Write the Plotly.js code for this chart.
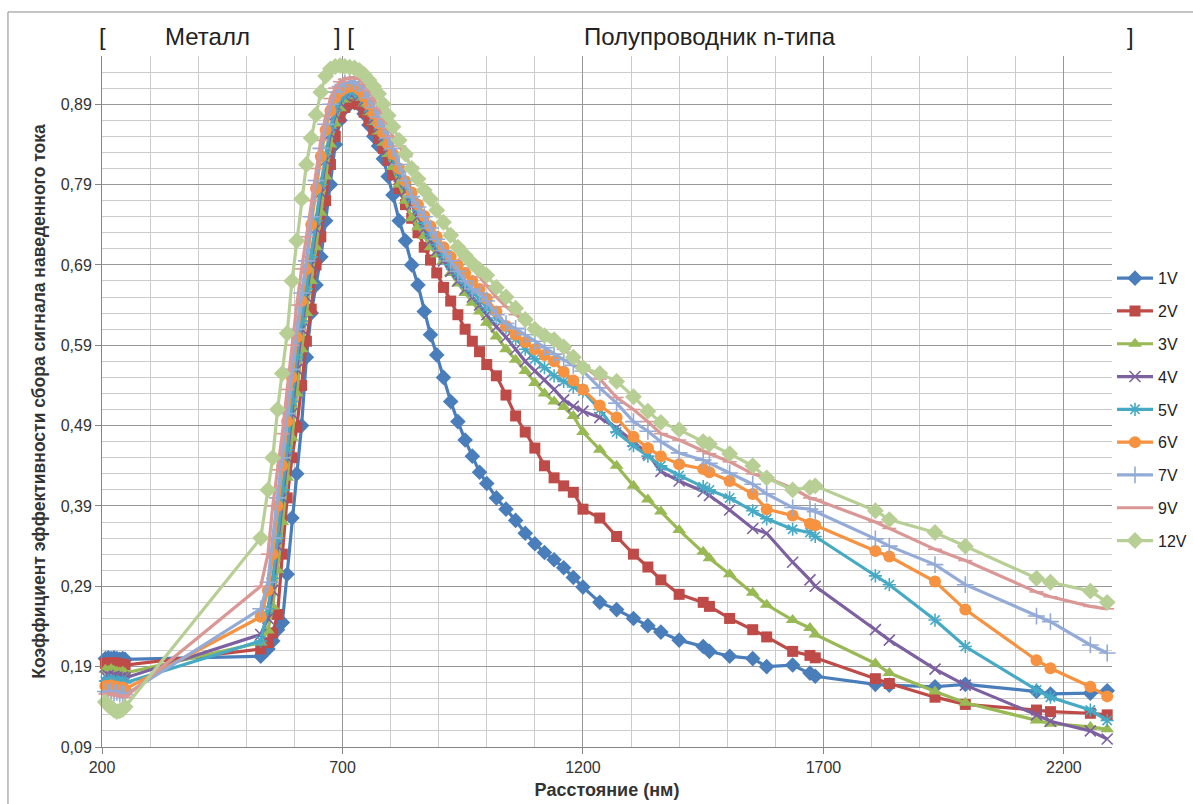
<!DOCTYPE html>
<html>
<head>
<meta charset="utf-8">
<script src="https://cdn.plot.ly/plotly-3.0.1.min.js"></script>
<style>html,body{margin:0;padding:0;background:#fff;}#chart{width:1193px;height:804px;}</style>
</head>
<body>
<div id="chart"></div>
<script>
// Shared distance column (nm)
const distance = [207,213,219,225,231,237,243,248,
530,
545,555,565,575,585,595,605,615,625,635,645,655,665,675,685,695,705,
715,725,735,745,755,765,775,785,795,805,
818,831,844,857,870,883,896,
910,925,940,955,970,985,1000,
1020,1040,1060,1080,1100,1120,1140,1160,1180,
1200,1235,1270,1305,1335,1362,1400,1450,1463,1505,1553,1582,1636,1672,1683,
1808,1837,1932,1995,2143,2172,2255,2290];

const seriesNames = ['1V','2V','3V','4V','5V','6V','7V','9V','12V'];

const v1 = [0.200,0.201,0.200,0.201,0.200,0.199,0.200,0.199,
0.203,
0.212,0.222,0.236,0.245,0.305,0.375,0.430,0.490,0.575,0.630,0.665,0.700,0.745,0.790,0.840,0.870,0.885,
0.890,0.892,0.889,0.878,0.864,0.850,0.838,0.822,0.800,0.777,
0.745,0.720,0.690,0.665,0.632,0.603,0.578,
0.550,0.520,0.495,0.472,0.452,0.432,0.418,
0.400,0.386,0.372,0.356,0.343,0.332,0.323,0.313,0.301,
0.289,0.270,0.261,0.250,0.241,0.233,0.223,0.215,0.209,0.203,0.200,0.190,0.192,0.182,0.178,
0.168,0.167,0.165,0.168,0.159,0.156,0.157,0.160];

const v2 = [0.194,0.195,0.193,0.195,0.194,0.192,0.193,0.192,
0.212,
0.220,0.232,0.255,0.330,0.400,0.450,0.488,0.540,0.595,0.635,0.690,0.725,0.770,0.815,0.850,0.874,0.886,
0.891,0.893,0.890,0.880,0.869,0.858,0.847,0.835,0.820,0.802,
0.785,0.765,0.748,0.730,0.712,0.696,0.680,
0.662,0.645,0.628,0.610,0.595,0.582,0.566,
0.552,0.528,0.502,0.482,0.462,0.440,0.425,0.415,0.407,
0.386,0.375,0.352,0.330,0.314,0.298,0.280,0.270,0.265,0.250,0.236,0.227,0.209,0.204,0.201,
0.175,0.169,0.152,0.143,0.136,0.134,0.132,0.130];

const v3 = [0.186,0.185,0.187,0.185,0.184,0.183,0.184,0.182,
0.220,
0.235,0.265,0.310,0.370,0.425,0.475,0.530,0.585,0.630,0.670,0.712,0.755,0.800,0.840,0.866,0.885,0.896,
0.900,0.901,0.898,0.891,0.880,0.868,0.856,0.842,0.828,0.812,
0.790,0.770,0.748,0.737,0.726,0.712,0.703,
0.695,0.680,0.667,0.655,0.643,0.632,0.618,
0.601,0.585,0.572,0.558,0.543,0.530,0.520,0.513,0.502,
0.482,0.460,0.440,0.415,0.398,0.383,0.360,0.333,0.325,0.305,0.282,0.267,0.248,0.238,0.230,
0.194,0.182,0.159,0.145,0.123,0.119,0.115,0.112];

const v4 = [0.178,0.179,0.177,0.178,0.177,0.176,0.177,0.176,
0.230,
0.250,0.285,0.340,0.400,0.450,0.505,0.560,0.610,0.650,0.690,0.735,0.780,0.820,0.853,0.877,0.892,0.900,
0.903,0.904,0.901,0.894,0.884,0.872,0.861,0.848,0.834,0.820,
0.800,0.782,0.765,0.750,0.735,0.720,0.708,
0.695,0.682,0.670,0.660,0.650,0.640,0.628,
0.613,0.600,0.585,0.570,0.558,0.547,0.535,0.522,0.514,
0.508,0.500,0.487,0.470,0.455,0.433,0.421,0.408,0.403,0.385,0.362,0.356,0.320,0.298,0.290,
0.236,0.223,0.187,0.167,0.130,0.122,0.110,0.100];

const v5 = [0.172,0.173,0.171,0.172,0.171,0.170,0.171,0.170,
0.222,
0.262,0.300,0.350,0.410,0.460,0.520,0.575,0.620,0.660,0.700,0.745,0.790,0.828,0.860,0.882,0.897,0.903,
0.906,0.907,0.903,0.896,0.886,0.875,0.864,0.851,0.838,0.825,
0.806,0.790,0.773,0.758,0.742,0.728,0.715,
0.702,0.690,0.678,0.667,0.657,0.647,0.637,
0.624,0.612,0.598,0.585,0.573,0.562,0.552,0.545,0.538,
0.533,0.510,0.482,0.465,0.452,0.440,0.428,0.414,0.410,0.400,0.384,0.374,0.361,0.357,0.352,
0.303,0.292,0.248,0.215,0.161,0.152,0.136,0.123];

const v6 = [0.166,0.165,0.167,0.164,0.165,0.163,0.164,0.162,
0.252,
0.285,0.330,0.390,0.440,0.495,0.550,0.600,0.645,0.685,0.740,0.785,0.825,0.858,0.882,0.898,0.906,0.910,
0.912,0.912,0.908,0.900,0.890,0.878,0.866,0.854,0.840,0.828,
0.810,0.794,0.780,0.765,0.751,0.738,0.725,
0.712,0.700,0.690,0.680,0.670,0.660,0.648,
0.632,0.614,0.603,0.594,0.585,0.578,0.570,0.557,0.546,
0.535,0.515,0.500,0.476,0.462,0.452,0.442,0.436,0.432,0.421,0.405,0.386,0.378,0.368,0.366,
0.334,0.327,0.296,0.261,0.198,0.188,0.165,0.153];

const v7 = [0.159,0.158,0.160,0.157,0.158,0.156,0.157,0.155,
0.262,
0.295,0.350,0.400,0.450,0.505,0.560,0.610,0.655,0.695,0.750,0.795,0.835,0.865,0.890,0.905,0.912,0.916,
0.918,0.918,0.914,0.907,0.898,0.886,0.874,0.862,0.848,0.835,
0.815,0.795,0.775,0.762,0.750,0.736,0.722,
0.708,0.695,0.682,0.670,0.660,0.655,0.645,
0.628,0.617,0.611,0.603,0.595,0.587,0.579,0.572,0.565,
0.558,0.537,0.518,0.495,0.483,0.470,0.456,0.447,0.443,0.431,0.417,0.405,0.388,0.386,0.383,
0.349,0.340,0.317,0.292,0.253,0.246,0.217,0.207];

const v9 = [0.156,0.155,0.157,0.154,0.155,0.153,0.154,0.152,
0.290,
0.330,0.390,0.435,0.480,0.535,0.590,0.640,0.685,0.725,0.770,0.810,0.845,0.875,0.897,0.910,0.918,0.921,
0.923,0.923,0.921,0.915,0.907,0.897,0.885,0.872,0.860,0.850,
0.838,0.825,0.812,0.798,0.784,0.770,0.757,
0.743,0.728,0.713,0.698,0.686,0.675,0.664,
0.650,0.638,0.628,0.620,0.612,0.604,0.595,0.585,0.575,
0.565,0.548,0.525,0.510,0.495,0.480,0.472,0.458,0.455,0.445,0.430,0.425,0.412,0.400,0.398,
0.370,0.362,0.336,0.322,0.283,0.277,0.265,0.262];

const v12 = [0.146,0.142,0.139,0.136,0.134,0.135,0.137,0.140,
0.350,
0.410,0.450,0.510,0.555,0.605,0.670,0.720,0.772,0.815,0.848,0.877,0.905,0.925,0.934,0.937,0.938,0.937,
0.936,0.935,0.932,0.927,0.920,0.912,0.903,0.890,0.876,0.862,
0.845,0.828,0.810,0.797,0.783,0.772,0.758,
0.743,0.727,0.712,0.702,0.692,0.684,0.677,
0.662,0.650,0.636,0.622,0.610,0.602,0.597,0.588,0.575,
0.562,0.555,0.545,0.526,0.508,0.494,0.485,0.470,0.467,0.455,0.440,0.425,0.410,0.413,0.415,
0.384,0.373,0.357,0.340,0.300,0.295,0.284,0.270];

const values = [v1,v2,v3,v4,v5,v6,v7,v9,v12];
const colors = ['#4A7EBB','#BE4B48','#98B954','#7D60A0','#46AAC5','#F69240','#93ABD6','#D99795','#B7CF94'];
const symbols = ['diamond','square','triangle-up','x-thin-open','asterisk-open','circle','cross-thin-open','line-ew-open','diamond'];
const sizes = [12,11,12,11,11,12,12,10,13];

const traces = seriesNames.map((name,i)=>{
  const open = symbols[i].endsWith('-open');
  return {
    type:'scatter', mode:'lines+markers', name:name,
    x: distance, y: values[i],
    legendgroup: name,
    cliponaxis: false,
    line:{color:colors[i], width:3.2},
    marker:{symbol:symbols[i], size:sizes[i], color:colors[i],
      line:{color:colors[i], width: open ? 1.6 : 0}}
  };
});

const gridMajor = '#979797', gridMinor = '#cccccc';
const layout = {
  width:1193, height:804,
  margin:{l:102, r:81, t:56, b:57, autoexpand:false},
  paper_bgcolor:'#fff', plot_bgcolor:'#fff',
  separators:', ',
  font:{family:'Liberation Sans, Arial, sans-serif', color:'#333'},
  showlegend:true,
  legend:{x:1.0, xanchor:'left', y:0.703, yanchor:'top',
    font:{size:16, color:'#222', family:'Liberation Sans, Arial, sans-serif'},
    tracegroupgap:9, itemwidth:36, bgcolor:'rgba(0,0,0,0)'},
  xaxis:{range:[200,2300], tick0:200, dtick:500, tickformat:'d',
    showgrid:true, gridcolor:gridMajor, gridwidth:1,
    minor:{tick0:200, dtick:100, showgrid:true, gridcolor:gridMinor, gridwidth:1},
    showline:true, linecolor:'#868686', linewidth:1,
    ticks:'outside', ticklen:6, tickcolor:'#868686',
    tickfont:{size:16, color:'#333'}, zeroline:false, automargin:false,
    title:{text:'<b>Расстояние (нм)</b>', font:{size:18, color:'#333'}, standoff:8}},
  yaxis:{range:[0.09,0.95], tick0:0.09, dtick:0.1, tickformat:'.2f',
    showgrid:true, gridcolor:gridMajor, gridwidth:1,
    minor:{tick0:0.09, dtick:0.02, showgrid:true, gridcolor:gridMinor, gridwidth:1},
    showline:true, linecolor:'#868686', linewidth:1,
    ticks:'outside', ticklen:6, tickcolor:'#868686',
    tickfont:{size:16, color:'#333'}, zeroline:false, automargin:false,
    title:{text:'<b>Коэффициент эффективности сбора сигнала наведенного тока</b>', font:{size:17.5, color:'#333'}, standoff:10}},
  shapes:[
    {type:'rect', xref:'paper', yref:'paper', x0:-0.0931, x1:1.09, y0:-0.095, y1:1.0637,
     line:{color:'#8a8a8a', width:1}, fillcolor:'rgba(0,0,0,0)', layer:'below'}
  ],
  annotations:[
    {text:'[', xref:'paper', yref:'paper', x:0.0, y:1.0275, xanchor:'center', yanchor:'middle', showarrow:false, font:{size:24, color:'#222'}},
    {text:'Металл', xref:'paper', yref:'paper', x:0.104, y:1.0275, xanchor:'center', yanchor:'middle', showarrow:false, font:{size:24, color:'#222'}},
    {text:'] [', xref:'paper', yref:'paper', x:0.2396, y:1.0275, xanchor:'center', yanchor:'middle', showarrow:false, font:{size:24, color:'#222'}},
    {text:'Полупроводник n-типа', xref:'paper', yref:'paper', x:0.602, y:1.0275, xanchor:'center', yanchor:'middle', showarrow:false, font:{size:24, color:'#222'}},
    {text:']', xref:'paper', yref:'paper', x:1.018, y:1.0275, xanchor:'center', yanchor:'middle', showarrow:false, font:{size:24, color:'#222'}}
  ]
};

Plotly.newPlot('chart', traces, layout, {displayModeBar:false, staticPlot:true});
</script>
</body>
</html>
